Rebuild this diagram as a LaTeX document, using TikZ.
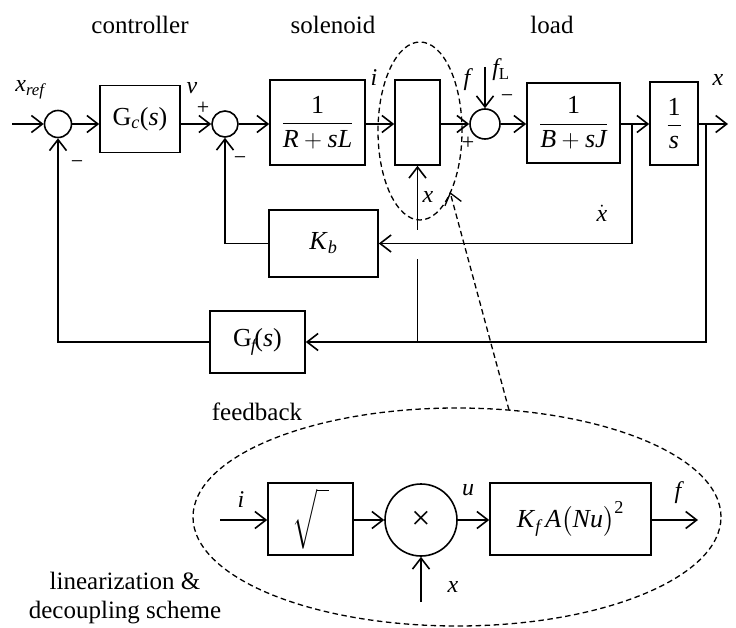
\documentclass[tikz,border=0pt]{standalone}
\usepackage{amsmath}
\usepackage{fontspec}
\setmainfont{Liberation Serif}
\usetikzlibrary{arrows.meta,shapes.geometric}
\begin{document}
\begin{tikzpicture}[x=1pt,y=-1pt,line width=1.6pt,
  box/.style={draw,rectangle,inner sep=0pt,font=\fontsize{26}{30}\selectfont},
  sumc/.style={draw,circle,inner sep=0pt},
  arr/.style={-{Straight Barb[length=11pt,width=17pt]}},
  dsh/.style={line width=1.3pt,dash pattern=on 5.5pt off 3.5pt},
  darr/.style={dsh,-{Straight Barb[length=11pt,width=17pt,line width=1.3pt]}},
  ttl/.style={font=\fontsize{25}{29}\selectfont},
  lbl/.style={font=\fontsize{24}{28}\selectfont\itshape,inner sep=0pt},
  sgn/.style={font=\fontsize{22}{25}\selectfont,inner sep=0pt}]
\useasboundingbox (0,0) rectangle (736,628);

% titles
\node[ttl] (tc) at (140,25) {controller};
\node[ttl] (ts) at (333,25) {solenoid};
\node[ttl] (tl) at (552,25) {load};
\node[ttl] (tf) at (257,412) {feedback};
\node[ttl,align=center] (tlin) at (125,598) {linearization \&\\decoupling scheme};

% main row
\node[sumc,minimum size=27pt] (s1) at (58,124) {};
\node[box,minimum width=80pt,minimum height=67pt] (gc) at (140,119) {G$_{\textit{c}}$(\textit{s})};
\node[sumc,minimum size=26pt] (s2) at (225,124) {};
\node[box,minimum width=95pt,minimum height=85pt] (rsl) at (317.5,122.5) {$\dfrac{\text{1}}{\textit{R}+\textit{sL}}$};
\node[box,minimum width=45pt,minimum height=85pt] (lin) at (417.5,122.5) {};
\node[sumc,minimum size=30pt] (s3) at (485,124) {};
\node[box,minimum width=93pt,minimum height=80pt] (bsj) at (573.5,123) {$\dfrac{\text{1}}{\textit{B}+\textit{sJ}}$};
\node[box,minimum width=48pt,minimum height=83pt] (ints) at (674,123.5) {$\dfrac{\text{1}}{\textit{s}}$};
\node[box,minimum width=109pt,minimum height=67pt] (kb) at (323.5,243.5) {\textit{K}$_{\textit{b}}$};
\node[box,minimum width=95pt,minimum height=62pt] (gf) at (257.5,342) {G$_{\kern-1pt\textit{f}}$\kern-2pt(\textit{s})};

\coordinate (in) at (12,124);
\coordinate (out) at (728,124);
\coordinate (bxd) at (632,124);
\coordinate (bx) at (706,124);
\coordinate (fLtop) at (485,67);
\coordinate (xg) at (417.5,342);
\coordinate (xgap1) at (417.5,259);
\coordinate (xgap2) at (417.5,230);

\draw[arr] (in) -- (s1);
\draw[arr] (s1) -- (s1 -| gc.west);
\draw[arr] (gc.east |- s2) -- (s2);
\draw[arr] (s2) -- (s2 -| rsl.west);
\draw[arr] (rsl.east |- s3) -- (lin.west |- s3);
\draw[arr] (lin.east |- s3) -- (s3);
\draw[arr] (s3) -- (s3 -| bsj.west);
\draw[arr] (bsj.east |- s3) -- (s3 -| ints.west);
\draw[arr] (ints.east |- s3) -- (out);
\draw[arr] (fLtop) -- (s3);
\draw[arr] (bxd) |- (kb.east);
\draw[arr] (kb.west) -| (s2);
\draw[arr] (bx) |- (gf.east);
\draw[arr] (gf.west) -| (s1);
\draw (xg) -- (xgap1);
\draw[arr] (xgap2) -- (lin.south);

% labels main
\node[lbl] (lxref) at (30,90) {x$_{\textit{ref}}$};
\node[lbl] (lv) at (192,88) {v};
\node[sgn] (p1) at (203,108) {+};
\node[sgn] (m1) at (77,165) {−};
\node[sgn] (m2) at (240,161) {−};
\node[lbl] (li) at (374,78) {i};
\node[lbl] (lf) at (467,80) {f};
\node[lbl] (lfL) at (501,70) {f$_{\textup{L}}$};
\node[sgn] (m3) at (507,99) {−};
\node[sgn] (p3) at (468,143) {+};
\node[lbl] (lx) at (718,80) {x};
\node[lbl] (lx2) at (428,197) {x};
\node[lbl] (lxd) at (602,213) {$\dot{\text{\itshape x}}$};

% dashed ellipses and pointer
\node[draw,dsh,ellipse,inner sep=0pt,minimum width=84pt,minimum height=178pt] (lz) at (420,131) {};
\node[draw,dsh,ellipse,inner sep=0pt,minimum width=528pt,minimum height=218pt] (bigz) at (457,517) {};
\coordinate (dstart) at (509,410);
\coordinate (dtip) at (450,192);
\draw[darr] (dstart) -- (dtip);

% lower scheme
\node[box,minimum width=85pt,minimum height=72pt] (sq) at (310.5,519) {$\sqrt{\vphantom{\Big|}\hspace{12pt}}$};
\node[sumc,minimum size=72pt,font=\fontsize{34}{36}\selectfont] (mul) at (421,520) {×};
\node[box,minimum width=161pt,minimum height=72pt] (kf) at (570.5,519) {\textit{K}$_{\textit{f}}$\,\textit{A}$\bigl($\textit{Nu}$\bigr)^{\text{2}}$};
\coordinate (iin) at (220,520);
\coordinate (fout) at (698,520);
\coordinate (xin) at (421,602);
\draw[arr] (iin) -- (iin -| sq.west);
\draw[arr] (sq.east |- mul) -- (mul);
\draw[arr] (mul) -- (mul -| kf.west);
\draw[arr] (kf.east |- fout) -- (fout);
\draw[arr] (xin) -- (mul);

\node[lbl] (li2) at (241,500) {i};
\node[lbl] (lu) at (468,490) {u};
\node[lbl] (lf2) at (678,493) {f};
\node[lbl] (lx3) at (453,587) {x};
\end{tikzpicture}
\end{document}
